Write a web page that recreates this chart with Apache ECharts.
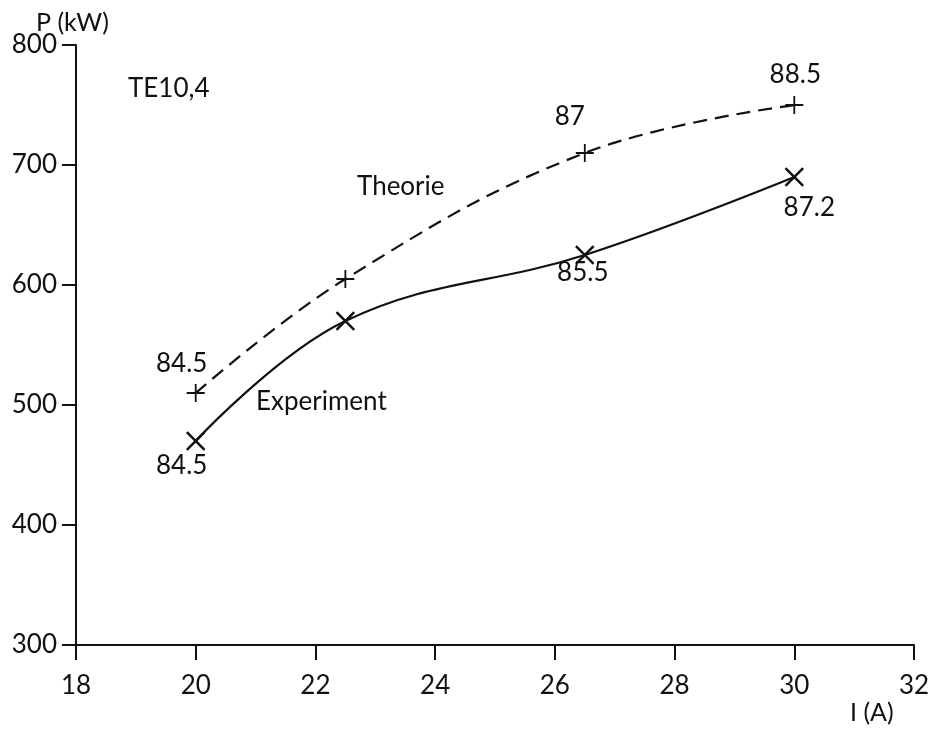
<!DOCTYPE html>
<html>
<head>
<meta charset="utf-8">
<script src="https://cdn.jsdelivr.net/npm/echarts@6/dist/echarts.min.js"></script>
<style>html,body{margin:0;padding:0;background:#fff;}#c{width:933px;height:731px;}</style>
</head>
<body>
<div id="c"></div>
<script>
// Data
const currentA = [20, 22.5, 26.5, 30];
const theoriePower = [510, 605, 710, 750];
const theorieEff = ['84.5', '', '87', '88.5'];
const experimentPower = [470, 570, 625, 690];
const experimentEff = ['84.5', '', '85.5', '87.2'];
const xTicks = [18, 20, 22, 24, 26, 28, 30, 32];
const yTicks = [300, 400, 500, 600, 700, 800];

const FONT = 'Lato';
const FS = 26;
const INK = '#111';
const theoLabelOffsets = [[-14, -29], [0, 0], [-15, -36], [1, -30]];
const expLabelOffsets = [[-14, 25], [0, 0], [-2, 18], [15, 31]];

function build(power, eff, offsets) {
  return currentA.map((x, i) => ({
    value: [x, power[i]],
    label: {
      show: eff[i] !== '',
      formatter: eff[i],
      position: 'inside',
      offset: offsets[i],
      color: INK,
      fontFamily: FONT,
      fontSize: FS
    }
  }));
}

const plusPath = 'path://M-0.9,-9 h1.8 v8.1 h8.1 v1.8 h-8.1 v8.1 h-1.8 v-8.1 h-8.1 v-1.8 h8.1 z';

const chart = echarts.init(document.getElementById('c'), null, {renderer: 'canvas'});
chart.setOption({
  animation: false,
  backgroundColor: '#fff',
  grid: {left: 76, right: 19, top: 45, bottom: 86, containLabel: false},
  xAxis: {
    type: 'value', min: xTicks[0], max: xTicks[xTicks.length - 1], interval: 2,
    axisLine: {show: true, onZero: false, lineStyle: {color: INK, width: 2}},
    axisTick: {show: true, length: 15, lineStyle: {color: INK, width: 2}},
    axisLabel: {color: INK, fontFamily: FONT, fontSize: FS, margin: 28},
    splitLine: {show: false}
  },
  yAxis: {
    type: 'value', min: yTicks[0], max: yTicks[yTicks.length - 1], interval: 100,
    axisLine: {show: true, onZero: false, lineStyle: {color: INK, width: 2}},
    axisTick: {show: true, length: 14, lineStyle: {color: INK, width: 2}},
    axisLabel: {color: INK, fontFamily: FONT, fontSize: FS, margin: 19},
    splitLine: {show: false}
  },
  graphic: [
    {type: 'text', left: 36, top: 10, style: {text: 'P (kW)', font: '25px Lato', fill: INK}},
    {type: 'text', left: 850, top: 700, style: {text: 'I (A)', font: '25px Lato', fill: INK}},
    {type: 'text', left: 128, top: 76, style: {text: 'TE10,4', font: FS + 'px Lato', fill: INK}},
    {type: 'text', left: 357, top: 174, style: {text: 'Theorie', font: FS + 'px Lato', fill: INK}},
    {type: 'text', left: 256, top: 389, style: {text: 'Experiment', font: FS + 'px Lato', fill: INK}}
  ],
  series: [
    {
      name: 'Theorie', type: 'line', smooth: 0.4,
      data: build(theoriePower, theorieEff, theoLabelOffsets),
      symbol: plusPath, symbolSize: 18,
      itemStyle: {color: INK},
      lineStyle: {color: INK, width: 2.2, type: [14, 8]}
    },
    {
      name: 'Experiment', type: 'line', smooth: 0.4,
      data: build(experimentPower, experimentEff, expLabelOffsets),
      symbol: plusPath, symbolSize: 25, symbolRotate: 45,
      itemStyle: {color: INK},
      lineStyle: {color: INK, width: 2.2}
    }
  ]
});
</script>
</body>
</html>
